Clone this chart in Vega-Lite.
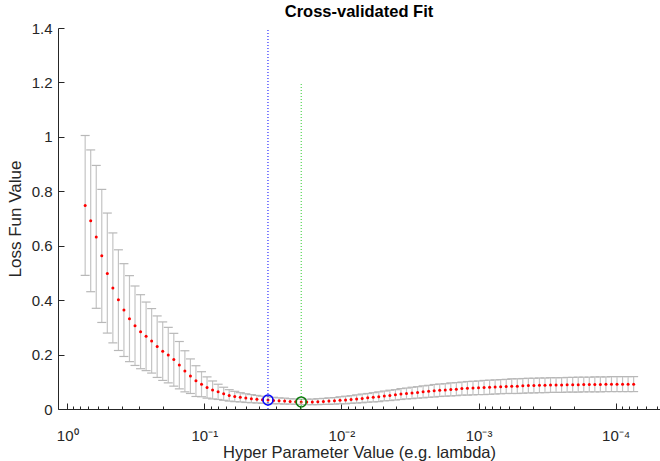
{
"$schema": "https://vega.github.io/schema/vega-lite/v6.json",
"width": 602, "height": 381,
"autosize": {"type": "none"},
"padding": {"left": 58, "top": 28, "right": 0, "bottom": 52},
"background": "white",
"config": {"view": {"stroke": null}, "font": "Liberation Sans"},
"title": {"text": "Cross-validated Fit", "fontSize": 16.5, "fontWeight": "bold", "color": "#000000", "anchor": "middle", "offset": 1, "font": "Liberation Sans"},
"datasets": {
"cv": [
{"lambda":0.7396,"mse":0.748,"lo":0.491,"hi":1.005},
{"lambda":0.6739,"mse":0.692,"lo":0.431,"hi":0.952},
{"lambda":0.6140,"mse":0.632,"lo":0.370,"hi":0.895},
{"lambda":0.5595,"mse":0.563,"lo":0.318,"hi":0.807},
{"lambda":0.5098,"mse":0.498,"lo":0.279,"hi":0.720},
{"lambda":0.4645,"mse":0.445,"lo":0.243,"hi":0.647},
{"lambda":0.4232,"mse":0.401,"lo":0.215,"hi":0.585},
{"lambda":0.3857,"mse":0.364,"lo":0.193,"hi":0.534},
{"lambda":0.3514,"mse":0.332,"lo":0.174,"hi":0.490},
{"lambda":0.3202,"mse":0.306,"lo":0.160,"hi":0.452},
{"lambda":0.2917,"mse":0.284,"lo":0.148,"hi":0.420},
{"lambda":0.2658,"mse":0.267,"lo":0.141,"hi":0.393},
{"lambda":0.2422,"mse":0.250,"lo":0.132,"hi":0.369},
{"lambda":0.2207,"mse":0.230,"lo":0.116,"hi":0.342},
{"lambda":0.2011,"mse":0.212,"lo":0.105,"hi":0.320},
{"lambda":0.1832,"mse":0.198,"lo":0.096,"hi":0.300},
{"lambda":0.1669,"mse":0.182,"lo":0.084,"hi":0.278},
{"lambda":0.1521,"mse":0.162,"lo":0.074,"hi":0.248},
{"lambda":0.1386,"mse":0.140,"lo":0.063,"hi":0.214},
{"lambda":0.1263,"mse":0.121,"lo":0.057,"hi":0.184},
{"lambda":0.1151,"mse":0.104,"lo":0.046,"hi":0.159},
{"lambda":0.1048,"mse":0.091,"lo":0.045,"hi":0.137},
{"lambda":0.09552,"mse":0.079,"lo":0.040,"hi":0.118},
{"lambda":0.08703,"mse":0.070,"lo":0.037,"hi":0.103},
{"lambda":0.07931,"mse":0.063,"lo":0.035,"hi":0.091},
{"lambda":0.07226,"mse":0.056,"lo":0.032,"hi":0.080},
{"lambda":0.06584,"mse":0.050,"lo":0.029,"hi":0.071},
{"lambda":0.05999,"mse":0.046,"lo":0.027,"hi":0.065},
{"lambda":0.05466,"mse":0.043,"lo":0.026,"hi":0.060},
{"lambda":0.04981,"mse":0.040,"lo":0.024,"hi":0.056},
{"lambda":0.04538,"mse":0.038,"lo":0.023,"hi":0.053},
{"lambda":0.04135,"mse":0.036,"lo":0.022,"hi":0.050},
{"lambda":0.03768,"mse":0.034,"lo":0.021,"hi":0.047},
{"lambda":0.03433,"mse":0.033,"lo":0.020,"hi":0.046},
{"lambda":0.03128,"mse":0.031,"lo":0.019,"hi":0.043},
{"lambda":0.02850,"mse":0.030,"lo":0.019,"hi":0.041},
{"lambda":0.02597,"mse":0.029,"lo":0.018,"hi":0.040},
{"lambda":0.02366,"mse":0.028,"lo":0.018,"hi":0.038},
{"lambda":0.02156,"mse":0.027,"lo":0.017,"hi":0.037},
{"lambda":0.01965,"mse":0.026,"lo":0.016,"hi":0.036},
{"lambda":0.01790,"mse":0.026,"lo":0.016,"hi":0.036},
{"lambda":0.01631,"mse":0.026,"lo":0.016,"hi":0.036},
{"lambda":0.01486,"mse":0.027,"lo":0.016,"hi":0.038},
{"lambda":0.01354,"mse":0.028,"lo":0.017,"hi":0.039},
{"lambda":0.012337,"mse":0.029,"lo":0.017,"hi":0.041},
{"lambda":0.01124,"mse":0.030,"lo":0.018,"hi":0.042},
{"lambda":0.010242,"mse":0.032,"lo":0.019,"hi":0.045},
{"lambda":0.009333,"mse":0.033,"lo":0.019,"hi":0.047},
{"lambda":0.008503,"mse":0.035,"lo":0.021,"hi":0.049},
{"lambda":0.007748,"mse":0.037,"lo":0.022,"hi":0.052},
{"lambda":0.007060,"mse":0.039,"lo":0.023,"hi":0.055},
{"lambda":0.006433,"mse":0.041,"lo":0.025,"hi":0.057},
{"lambda":0.005861,"mse":0.043,"lo":0.026,"hi":0.060},
{"lambda":0.005341,"mse":0.045,"lo":0.027,"hi":0.063},
{"lambda":0.004866,"mse":0.048,"lo":0.030,"hi":0.066},
{"lambda":0.004434,"mse":0.050,"lo":0.031,"hi":0.069},
{"lambda":0.004040,"mse":0.052,"lo":0.033,"hi":0.071},
{"lambda":0.003681,"mse":0.055,"lo":0.035,"hi":0.075},
{"lambda":0.003354,"mse":0.057,"lo":0.037,"hi":0.077},
{"lambda":0.003056,"mse":0.059,"lo":0.038,"hi":0.080},
{"lambda":0.002785,"mse":0.061,"lo":0.040,"hi":0.082},
{"lambda":0.002537,"mse":0.063,"lo":0.041,"hi":0.085},
{"lambda":0.002312,"mse":0.065,"lo":0.043,"hi":0.087},
{"lambda":0.002107,"mse":0.067,"lo":0.044,"hi":0.090},
{"lambda":0.001920,"mse":0.069,"lo":0.046,"hi":0.092},
{"lambda":0.001749,"mse":0.070,"lo":0.047,"hi":0.093},
{"lambda":0.001594,"mse":0.072,"lo":0.048,"hi":0.096},
{"lambda":0.001452,"mse":0.073,"lo":0.049,"hi":0.097},
{"lambda":0.001323,"mse":0.075,"lo":0.051,"hi":0.099},
{"lambda":0.0012055,"mse":0.076,"lo":0.051,"hi":0.101},
{"lambda":0.0010982,"mse":0.077,"lo":0.052,"hi":0.102},
{"lambda":0.0010007,"mse":0.078,"lo":0.053,"hi":0.103},
{"lambda":0.0009119,"mse":0.079,"lo":0.053,"hi":0.105},
{"lambda":0.0008309,"mse":0.080,"lo":0.054,"hi":0.106},
{"lambda":0.0007570,"mse":0.081,"lo":0.055,"hi":0.107},
{"lambda":0.0006898,"mse":0.082,"lo":0.056,"hi":0.108},
{"lambda":0.0006285,"mse":0.083,"lo":0.057,"hi":0.109},
{"lambda":0.0005727,"mse":0.084,"lo":0.057,"hi":0.111},
{"lambda":0.0005218,"mse":0.084,"lo":0.057,"hi":0.111},
{"lambda":0.0004755,"mse":0.085,"lo":0.058,"hi":0.112},
{"lambda":0.0004332,"mse":0.086,"lo":0.059,"hi":0.113},
{"lambda":0.0003948,"mse":0.086,"lo":0.059,"hi":0.113},
{"lambda":0.0003597,"mse":0.087,"lo":0.060,"hi":0.114},
{"lambda":0.0003278,"mse":0.087,"lo":0.060,"hi":0.114},
{"lambda":0.0002986,"mse":0.088,"lo":0.061,"hi":0.115},
{"lambda":0.0002721,"mse":0.088,"lo":0.061,"hi":0.115},
{"lambda":0.0002479,"mse":0.088,"lo":0.061,"hi":0.115},
{"lambda":0.0002259,"mse":0.089,"lo":0.062,"hi":0.116},
{"lambda":0.0002058,"mse":0.089,"lo":0.062,"hi":0.116},
{"lambda":0.0001875,"mse":0.089,"lo":0.062,"hi":0.117},
{"lambda":0.0001709,"mse":0.090,"lo":0.063,"hi":0.117},
{"lambda":0.0001557,"mse":0.090,"lo":0.063,"hi":0.117},
{"lambda":0.0001419,"mse":0.090,"lo":0.063,"hi":0.118},
{"lambda":0.0001293,"mse":0.090,"lo":0.063,"hi":0.118},
{"lambda":0.0001178,"mse":0.091,"lo":0.064,"hi":0.118},
{"lambda":0.0001073,"mse":0.091,"lo":0.064,"hi":0.119},
{"lambda":0.00009777,"mse":0.091,"lo":0.064,"hi":0.119},
{"lambda":0.00008908,"mse":0.091,"lo":0.064,"hi":0.119},
{"lambda":0.00008118,"mse":0.091,"lo":0.064,"hi":0.119},
{"lambda":0.00007396,"mse":0.091,"lo":0.064,"hi":0.119}
],
"picks": [
{"lambda":0.03433,"mse":0.033,"base":0,"top":1.4,"kind":"1SE"},
{"lambda":0.01965,"mse":0.026,"base":0,"top":1.2,"kind":"Min"}
]
},
"layer": [
{"data": {"name": "cv"}, "mark": {"type": "rule", "color": "#c4c4c4", "strokeWidth": 1.2},
 "encoding": {
  "x": {"field": "lambda", "type": "quantitative",
   "scale": {"type": "log", "domain": [0.0000475, 1.167], "reverse": true, "nice": false, "zero": false},
   "axis": {
    "values": [1,0.9,0.8,0.7,0.6,0.5,0.4,0.3,0.2,0.1,0.09,0.08,0.07,0.06,0.05,0.04,0.03,0.02,0.01,0.009,0.008,0.007,0.006,0.005,0.004,0.003,0.002,0.001,0.0009,0.0008,0.0007,0.0006,0.0005,0.0004,0.0003,0.0002,0.0001,0.00009,0.00008,0.00007,0.00006,0.00005],
    "labelExpr": "abs(log(datum.value)/LN10 - round(log(datum.value)/LN10)) < 0.001 ? '10' + ['⁰','⁻¹','⁻²','⁻³','⁻⁴'][-round(log(datum.value)/LN10)] : ''",
    "tickSize": {"condition": {"test": "abs(log(datum.value)/LN10 - round(log(datum.value)/LN10)) < 0.001", "value": -6}, "value": -3},
    "labelPadding": 25, "labelFontSize": 15, "labelColor": "#262626", "labelFlush": false, "labelOverlap": false,
    "tickColor": "#262626", "domainColor": "#262626", "grid": false,
    "title": "Hyper Parameter Value (e.g. lambda)", "titleFontSize": 16.5, "titleFontWeight": "normal", "titleColor": "#262626", "titlePadding": -2
   }
  },
  "y": {"field": "lo", "type": "quantitative", "scale": {"domain": [0, 1.4], "nice": false},
   "axis": {"values": [0,0.2,0.4,0.6,0.8,1,1.2,1.4], "format": "~g", "tickSize": -6, "labelPadding": 12, "labelFontSize": 15, "labelColor": "#262626", "tickColor": "#262626", "domainColor": "#262626", "grid": false,
    "title": "Loss Fun Value", "titleFontSize": 17, "titleFontWeight": "normal", "titleColor": "#262626", "titlePadding": 7}},
  "y2": {"field": "hi"}
 }},
{"data": {"name": "cv"}, "mark": {"type": "tick", "orient": "horizontal", "size": 9, "thickness": 1.2, "color": "#b8b8b8", "opacity": 1},
 "encoding": {"x": {"field": "lambda", "type": "quantitative"}, "y": {"field": "hi", "type": "quantitative"}}},
{"data": {"name": "cv"}, "mark": {"type": "tick", "orient": "horizontal", "size": 9, "thickness": 1.2, "color": "#b8b8b8", "opacity": 1},
 "encoding": {"x": {"field": "lambda", "type": "quantitative"}, "y": {"field": "lo", "type": "quantitative"}}},
{"data": {"name": "cv"}, "mark": {"type": "circle", "size": 9, "color": "#ff0000", "opacity": 1},
 "encoding": {"x": {"field": "lambda", "type": "quantitative"}, "y": {"field": "mse", "type": "quantitative"}}},
{"data": {"name": "picks"}, "mark": {"type": "rule", "strokeDash": [1, 2], "strokeWidth": 1},
 "encoding": {
  "x": {"field": "lambda", "type": "quantitative"},
  "y": {"field": "base", "type": "quantitative"},
  "y2": {"field": "top"},
  "color": {"field": "kind", "type": "nominal", "scale": {"domain": ["1SE", "Min"], "range": ["#0000ff", "#33cc33"]}, "legend": null}
 }},
{"data": {"name": "picks"}, "mark": {"type": "point", "shape": "circle", "filled": false, "size": 100, "strokeWidth": 1.5, "opacity": 1},
 "encoding": {
  "x": {"field": "lambda", "type": "quantitative"},
  "y": {"field": "mse", "type": "quantitative"},
  "stroke": {"field": "kind", "type": "nominal", "scale": {"domain": ["1SE", "Min"], "range": ["#0000ff", "#0b7a0b"]}, "legend": null}
 }}
]
}
